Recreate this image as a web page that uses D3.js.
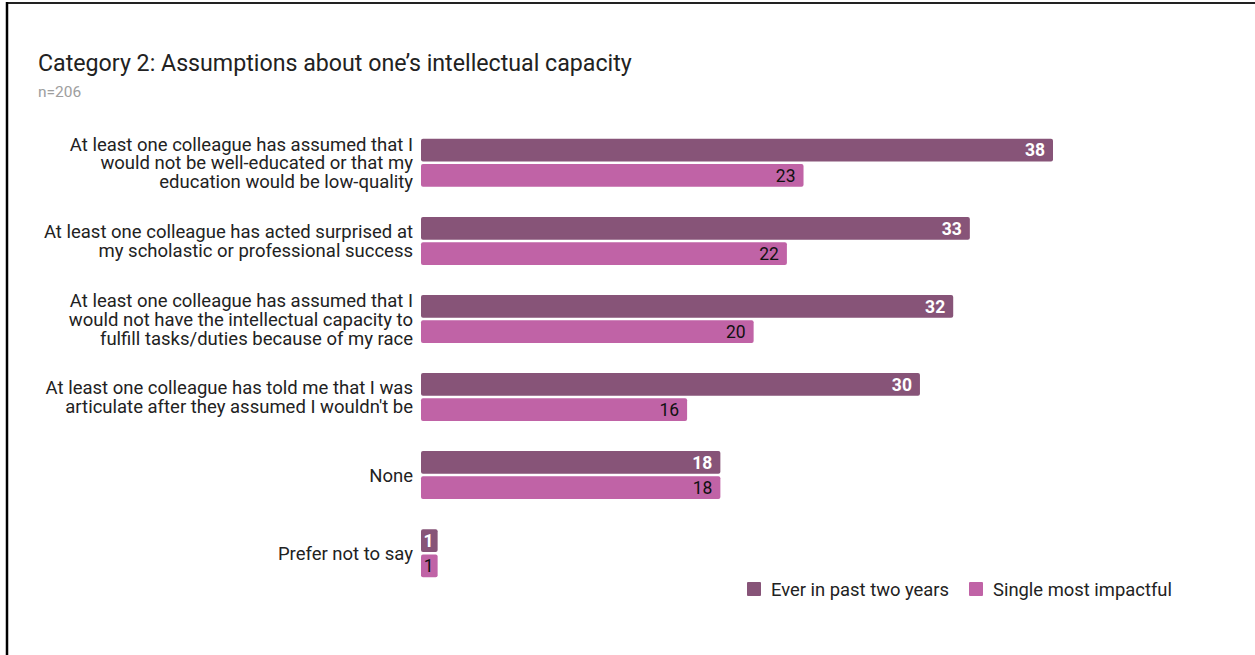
<!DOCTYPE html>
<html>
<head>
<meta charset="utf-8">
<script src="https://cdn.jsdelivr.net/npm/d3@7/dist/d3.min.js"></script>
<style>
  html, body { margin: 0; padding: 0; background: #fff; }
  svg { display: block; font-family: Roboto, "Noto Sans", sans-serif; }
</style>
</head>
<body>
<svg id="chart" width="1255" height="655"></svg>
<script>
const title = "Category 2: Assumptions about one\u2019s intellectual capacity";
const subtitle = "n=206";
const categories = [
  ["At least one colleague has assumed that I", "would not be well-educated or that my", "education would be low-quality"],
  ["At least one colleague has acted surprised at", "my scholastic or professional success"],
  ["At least one colleague has assumed that I", "would not have the intellectual capacity to", "fulfill tasks/duties because of my race"],
  ["At least one colleague has told me that I was", "articulate after they assumed I wouldn't be"],
  ["None"],
  ["Prefer not to say"]
];
const seriesNames = ["Ever in past two years", "Single most impactful"];
const everValues = [38, 33, 32, 30, 18, 1];
const singleValues = [23, 22, 20, 16, 18, 1];
const colors = ["#875478", "#c063a6"];

const svg = d3.select("#chart");

// frame lines (top and left)
svg.append("line").attr("x1", 6).attr("x2", 1255).attr("y1", 3).attr("y2", 3)
  .attr("stroke", "#222").attr("stroke-width", 2);
svg.append("line").attr("x1", 7).attr("x2", 7).attr("y1", 2).attr("y2", 655)
  .attr("stroke", "#000").attr("stroke-width", 2.5);

svg.append("text").attr("x", 38).attr("y", 71).attr("font-size", 23.2)
  .attr("fill", "#222").text(title);
svg.append("text").attr("x", 38).attr("y", 97).attr("font-size", 15.5)
  .attr("fill", "#9e9e9e").text(subtitle);

const idx = d3.range(categories.length);
const y = d3.scaleBand().domain(idx).range([124, 592]).paddingInner(0.385).paddingOuter(0.19);
const yInner = d3.scaleBand().domain([0, 1]).range([0, y.bandwidth()]).paddingInner(0.1);
const x = d3.scaleLinear().domain([0, 38]).range([421, 1053]);

const rows = idx.map(i => ({ i, cat: categories[i], vals: [everValues[i], singleValues[i]] }));

const g = svg.append("g");
const grp = g.selectAll("g.row").data(rows).join("g")
  .attr("class", "row")
  .attr("transform", d => `translate(0,${y(d.i)})`);

grp.selectAll("rect").data(d => d.vals.map((v, s) => ({ v, s }))).join("rect")
  .attr("x", x(0))
  .attr("y", d => yInner(d.s))
  .attr("width", d => x(d.v) - x(0))
  .attr("height", yInner.bandwidth())
  .attr("rx", 2)
  .attr("fill", d => colors[d.s]);

grp.selectAll("text.val").data(d => d.vals.map((v, s) => ({ v, s }))).join("text")
  .attr("class", "val")
  .attr("x", d => x(d.v) - (d.v < 3 ? 4 : 8))
  .attr("y", d => yInner(d.s) + yInner.bandwidth() / 2)
  .attr("dy", "0.36em")
  .attr("text-anchor", "end")
  .attr("font-size", 17.5)
  .attr("font-weight", d => d.s === 0 ? "bold" : "normal")
  .attr("fill", d => d.s === 0 ? "#fff" : "#111")
  .text(d => d.v);

// category labels
const lineH = 19;
grp.append("text")
  .attr("text-anchor", "end")
  .attr("font-size", 18.5)
  .attr("fill", "#222")
  .each(function(d) {
    const t = d3.select(this);
    const n = d.cat.length;
    const cy = y.bandwidth() / 2;
    d.cat.forEach((line, k) => {
      t.append("tspan").attr("x", 413)
        .attr("y", cy + (k - (n - 1) / 2) * lineH)
        .attr("dy", "0.36em")
        .text(line);
    });
  });

// legend
const legendX = [747, 969];
const leg = svg.append("g").selectAll("g").data(seriesNames).join("g")
  .attr("transform", (d, i) => `translate(${legendX[i]},582)`);
leg.append("rect").attr("width", 14).attr("height", 14).attr("rx", 1)
  .attr("fill", (d, i) => colors[i]);
leg.append("text").attr("x", 24).attr("y", 7).attr("dy", "0.36em")
  .attr("font-size", 18.4).attr("fill", "#222").text(d => d);
</script>
</body>
</html>
